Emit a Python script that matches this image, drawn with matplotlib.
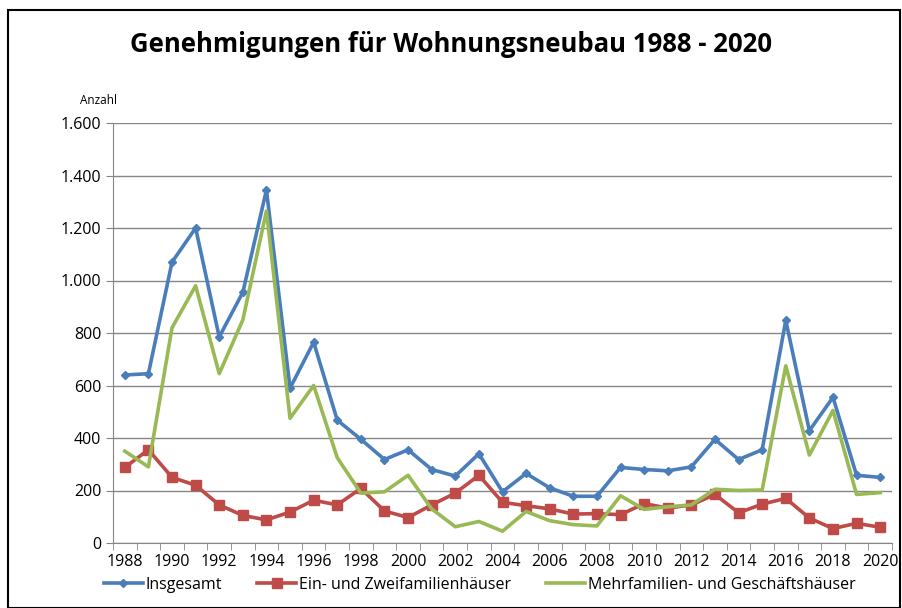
import matplotlib.pyplot as plt
import numpy as np
from matplotlib.patches import Rectangle

years = list(range(1988, 2021))

# Insgesamt
total = [640, 645, 1070, 1200, 785, 955, 1345, 590, 765, 468, 395, 318, 355, 280, 255, 340,
         195, 265, 210, 178, 178, 288, 280, 275, 290, 395, 318, 355, 848, 428, 555, 258, 250]
# Ein- und Zweifamilienhaeuser
ein_zwei = [288, 355, 250, 220, 145, 105, 88, 118, 163, 145, 208, 122, 97, 145, 190, 258,
            155, 142, 130, 110, 112, 108, 150, 133, 145, 185, 115, 148, 170, 95, 55, 75, 60]
# Mehrfamilien- und Geschaeftshaeuser
mehr = [350, 290, 820, 980, 645, 850, 1265, 475, 600, 325, 190, 195, 258, 130, 62, 82,
        45, 120, 85, 70, 65, 180, 128, 138, 145, 205, 200, 202, 675, 335, 505, 185, 192]

y_ticks = [0, 200, 400, 600, 800, 1000, 1200, 1400, 1600]
y_labels = ["0", "200", "400", "600", "800", "1.000", "1.200", "1.400", "1.600"]

plt.rcParams['font.family'] = ['Open Sans', 'DejaVu Sans']

fig = plt.figure(figsize=(9.02, 6.08), dpi=100)
ax = fig.add_axes([113 / 902, 1 - 543 / 608, (892 - 113) / 902, (543 - 123) / 608])

ax.plot(years, total, color='#4A7EBB', lw=2.6, marker='D', ms=4, label='Insgesamt')
ax.plot(years, ein_zwei, color='#BE4B48', lw=2.6, marker='s', ms=7, label='Ein- und Zweifamilienhäuser')
ax.plot(years, mehr, color='#98B954', lw=2.6, label='Mehrfamilien- und Geschäftshäuser')

ax.set_xlim(1987.5, 2020.5)
ax.set_ylim(0, 1600)
ax.set_yticks(y_ticks)
ax.set_yticklabels(y_labels, fontsize=11.5)
ax.set_xticks(years[::2])
ax.set_xticklabels([str(y) for y in years[::2]], fontsize=11.5)
ax.tick_params(axis='x', length=0, pad=8)
ax.set_xticks(np.arange(1987.5, 2021, 1), minor=True)
ax.tick_params(axis='x', which='minor', length=5, color='#868686')
ax.tick_params(axis='y', length=5, color='#868686')
ax.grid(axis='y', color='#868686', lw=1)
ax.set_axisbelow(True)
for s in ['top', 'right']:
    ax.spines[s].set_visible(False)
ax.spines['left'].set_color('#868686')
ax.spines['bottom'].set_color('#868686')

fig.text(0.5, 1 - 44 / 608, 'Genehmigungen für Wohnungsneubau 1988 - 2020',
         ha='center', va='center', fontsize=18.5, fontweight='bold')
fig.text(80 / 902, 1 - 100 / 608, 'Anzahl', ha='left', va='center', fontsize=8.5)

fig.legend(loc='center', bbox_to_anchor=(0.532, 1 - 585 / 608), ncol=3, frameon=False,
           fontsize=11.5, handlelength=2.4, columnspacing=2.2, handletextpad=0.2)

fig.patches.append(Rectangle((8 / 902, 0), 892 / 902, 1 - 10 / 608, transform=fig.transFigure,
                             fill=False, edgecolor='black', lw=1.5))

fig.savefig('out.png', dpi=100)
